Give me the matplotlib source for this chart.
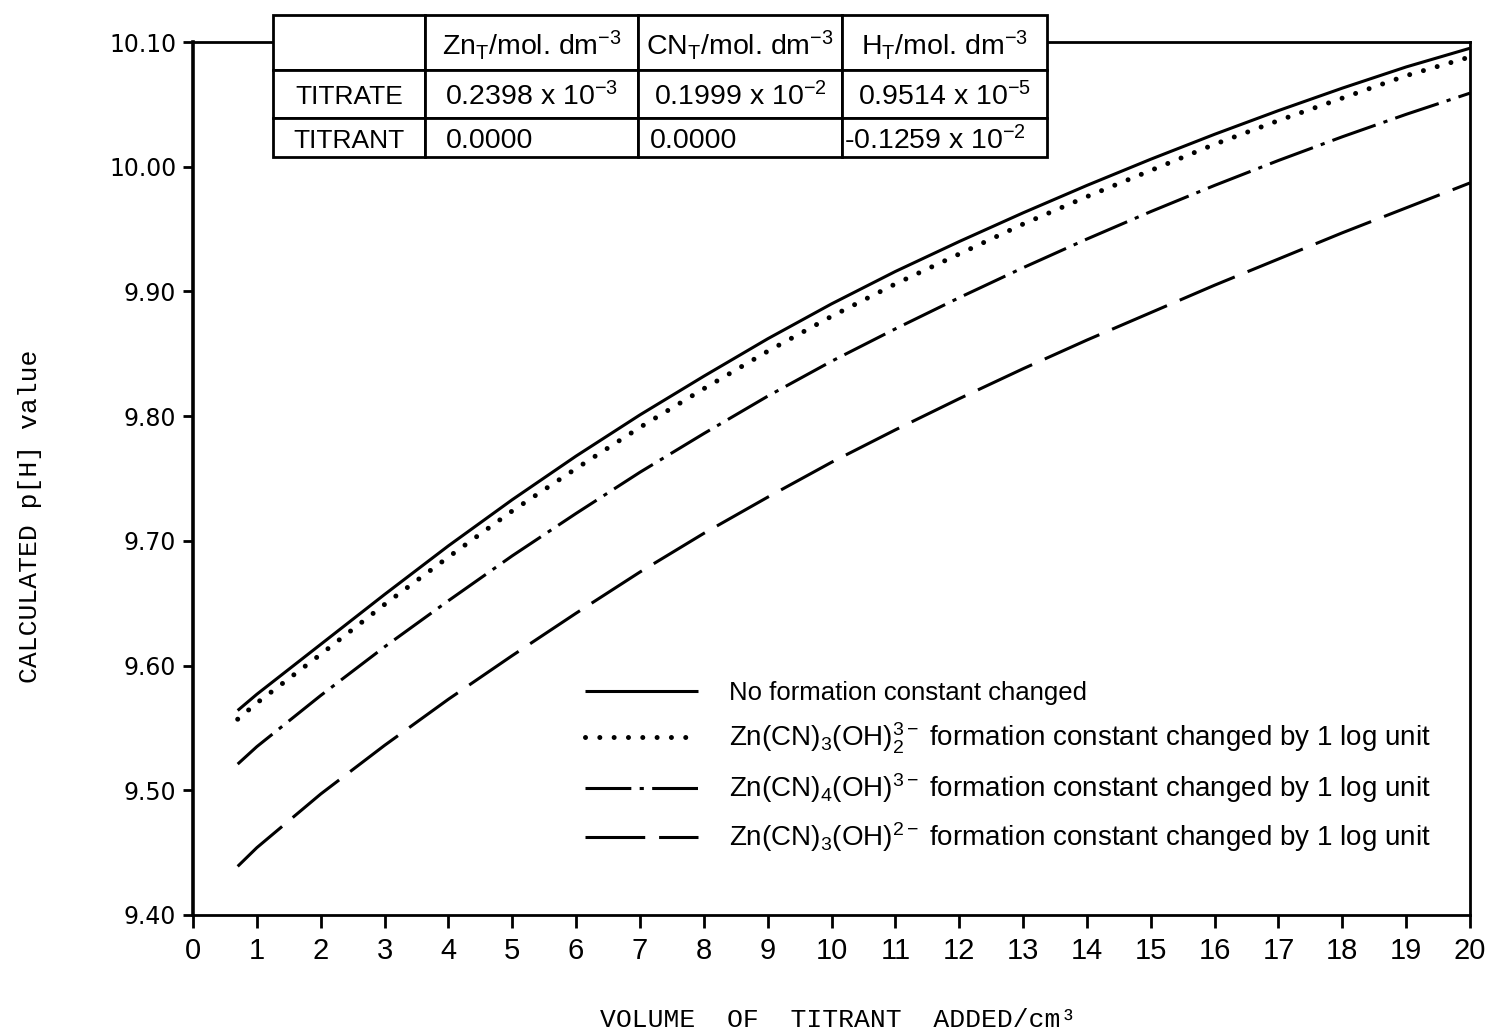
import matplotlib
matplotlib.use("Agg")
import matplotlib.pyplot as plt
from matplotlib.transforms import Affine2D

plt.rcParams['lines.scale_dashes'] = False
plt.rcParams['mathtext.fontset'] = 'custom'
plt.rcParams['mathtext.rm'] = 'Liberation Sans'
plt.rcParams['mathtext.it'] = 'Liberation Sans:italic'
plt.rcParams['mathtext.bf'] = 'Liberation Sans:bold'
plt.rcParams['mathtext.default'] = 'regular'

# ---- data -------------------------------------------------------------
volume = [0.7, 1, 2, 3, 4, 5, 6, 7, 8, 9, 10, 11, 12, 13, 14, 15, 16, 17, 18, 19, 20]
ph_no_change = [9.564, 9.577, 9.617, 9.657, 9.696, 9.733, 9.768, 9.801, 9.832, 9.862, 9.890,
                9.916, 9.940, 9.963, 9.985, 10.006, 10.026, 10.045, 10.063, 10.080, 10.095]
ph_cn3_oh2 = [9.557, 9.570, 9.609, 9.649, 9.687, 9.724, 9.758, 9.791, 9.822, 9.852, 9.880,
              9.906, 9.930, 9.954, 9.976, 9.997, 10.018, 10.037, 10.055, 10.073, 10.088]
ph_cn4_oh = [9.521, 9.535, 9.576, 9.615, 9.652, 9.688, 9.722, 9.755, 9.786, 9.816, 9.844,
             9.870, 9.895, 9.919, 9.942, 9.964, 9.985, 10.005, 10.024, 10.042, 10.059]
ph_cn3_oh = [9.439, 9.454, 9.497, 9.536, 9.573, 9.608, 9.642, 9.675, 9.706, 9.735, 9.763,
             9.789, 9.814, 9.838, 9.861, 9.883, 9.905, 9.926, 9.947, 9.967, 9.987]

series_labels = [
    "No formation constant changed",
    r"Zn(CN)$_3$(OH)$_2^{3-}$ formation constant changed by 1 log unit",
    r"Zn(CN)$_4$(OH)$^{3-}$ formation constant changed by 1 log unit",
    r"Zn(CN)$_3$(OH)$^{2-}$ formation constant changed by 1 log unit",
]

x_ticks = list(range(0, 21))
y_ticks = [9.40, 9.50, 9.60, 9.70, 9.80, 9.90, 10.00, 10.10]

table_header = ["", r"Zn$_T$/mol. dm$^{-3}$", r"CN$_T$/mol. dm$^{-3}$", r"H$_T$/mol. dm$^{-3}$"]
table_titrate = ["TITRATE", r"0.2398 x 10$^{-3}$", r"0.1999 x 10$^{-2}$", r"0.9514 x 10$^{-5}$"]
table_titrant = ["TITRANT", "0.0000", "0.0000", r"-0.1259 x 10$^{-2}$"]

# ---- figure -----------------------------------------------------------
W, H = 1489, 1033
fig = plt.figure(figsize=(W / 100, H / 100), dpi=100)
ax = fig.add_axes([193 / W, 1 - 915 / H, 1277 / W, 873 / H])

lw = 2.2
ax.plot(volume, ph_no_change, color='black', lw=lw, solid_capstyle='butt',
        label=series_labels[0])
ax.plot(volume, ph_cn3_oh2, color='black', lw=3.6, linestyle=(0, (0.01, 10.3)),
        dash_capstyle='round', label=series_labels[1])
ax.plot(volume, ph_cn4_oh, color='black', lw=lw, linestyle=(0, (33, 6, 3, 6)),
        dash_capstyle='butt', label=series_labels[2])
ax.plot(volume, ph_cn3_oh, color='black', lw=lw, linestyle=(0, (43, 10)),
        dash_capstyle='butt', label=series_labels[3])

ax.set_xlim(0, 20)
ax.set_ylim(9.40, 10.10)

for side in ['right', 'top', 'bottom']:
    ax.spines[side].set_linewidth(2.0)
    ax.spines[side].set_color('black')
ax.spines['left'].set_linewidth(2.6)

ax.set_xticks(x_ticks)
ax.set_xticklabels([str(v) for v in x_ticks])
ax.set_yticks(y_ticks)
ax.set_yticklabels([f"{v:.2f}" for v in y_ticks])
ax.tick_params(axis='x', direction='out', length=9, width=2, pad=7,
               labelsize=21, labelfontfamily='Liberation Sans')
ax.tick_params(axis='y', direction='out', length=7, width=2, pad=5,
               labelsize=17, labelfontfamily='DejaVu Sans')

# axis titles in typewriter style
fig.text(838 / W, 1 - 1020 / H, "VOLUME  OF  TITRANT  ADDED/cm³",
         family='Liberation Mono', fontsize=19, ha='center', va='center')
fig.text(30 / W, 1 - 516 / H, "CALCULATED p[H] value",
         family='Liberation Mono', fontsize=19, rotation=90, ha='center', va='center')

# legend
leg = ax.legend(loc='upper left', bbox_to_anchor=((585 - 193) / 1277, (915 - 681) / 873),
                frameon=False, handlelength=4.4, handletextpad=1.2, labelspacing=0.6,
                borderpad=0, borderaxespad=0,
                prop={'family': 'Liberation Sans', 'size': 18.5})
for txt in leg.get_texts()[1:]:
    txt.set_fontsize(20)

# concentration table sitting on top of the frame
col_px = [152, 213, 204, 205]
row_px = [55, 48, 39]
tbl_left, tbl_top = 273, 15
tbl_w, tbl_h = sum(col_px), sum(row_px)
tbl = ax.table(cellText=[table_header, table_titrate, table_titrant],
               colWidths=[c / tbl_w for c in col_px], cellLoc='center',
               bbox=[(tbl_left - 193) / 1277, (915 - tbl_top - tbl_h) / 873,
                     tbl_w / 1277, tbl_h / 873])
tbl.auto_set_font_size(False)
tbl.set_fontsize(20.5)
tbl.set_zorder(10)
tbl.set_clip_on(False)
for (r, c), cell in tbl.get_celld().items():
    cell.set_height(row_px[r] / tbl_h)
    cell.set_linewidth(2.0)
    cell.set_edgecolor('black')
    cell.set_facecolor('white')
    cell.get_text().set_fontfamily('Liberation Sans')
    # cell text sits a little below the geometric centre of each cell
    cell.get_text().set_transform(Affine2D().translate(0, -3))
tbl[1, 0].get_text().set_fontsize(19)
tbl[2, 0].get_text().set_fontsize(19)
left_cells = {(2, 1): 0.1, (2, 2): 0.06, (2, 3): 0.012}
for (r, c), pad in left_cells.items():
    cell = tbl[r, c]
    cell._loc = 'left'
    cell.PAD = pad
    cell.get_text().set_ha('left')

fig.savefig("out.png", dpi=100, facecolor='white')
